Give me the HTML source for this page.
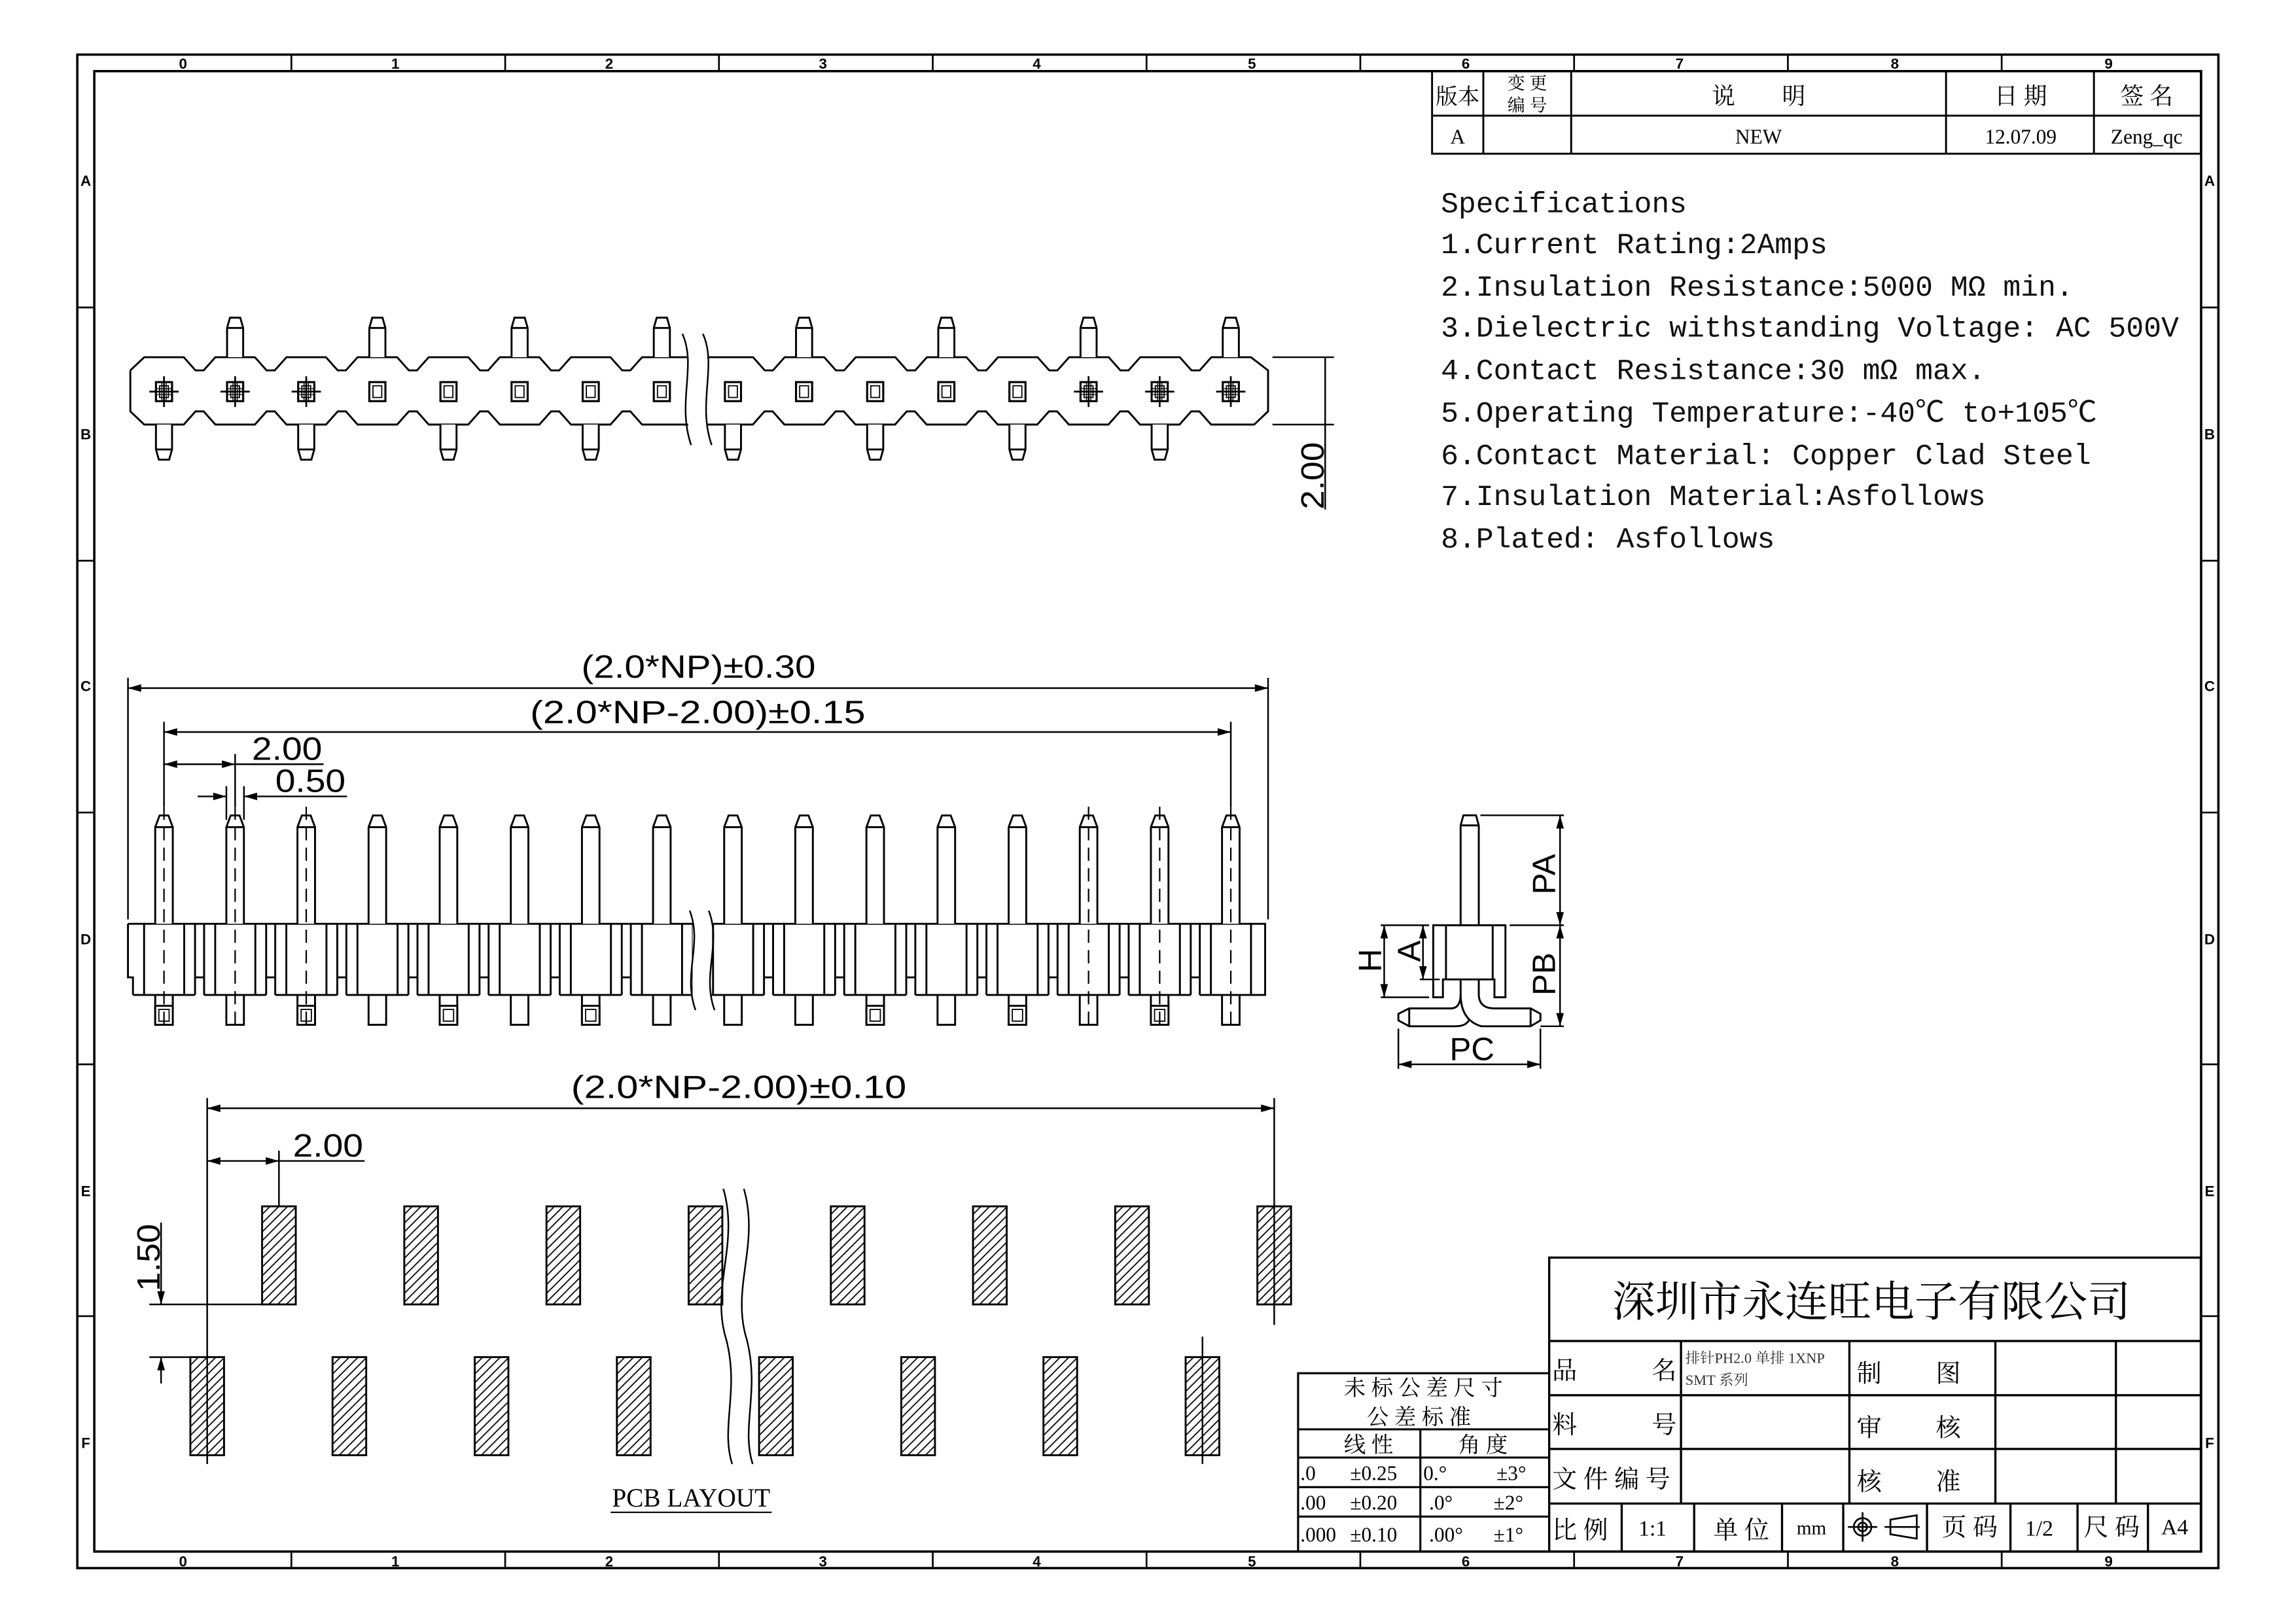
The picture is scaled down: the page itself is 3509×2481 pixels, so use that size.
<!DOCTYPE html>
<html><head><meta charset="utf-8"><style>
html,body{margin:0;padding:0;background:#fff}
svg{display:block}
.t{font-family:"Liberation Sans",sans-serif}
.s{font-family:"Liberation Serif","Noto Serif CJK SC",serif}
.m{font-family:"Liberation Mono","Noto Sans CJK SC",monospace}
.c{font-family:"Liberation Serif","Noto Serif CJK SC","Noto Sans CJK SC",serif}
</style></head><body>
<svg xmlns="http://www.w3.org/2000/svg" xmlns:xlink="http://www.w3.org/1999/xlink" width="3509" height="2481" viewBox="0 0 1568 1108.6" preserveAspectRatio="none">
<defs>
<marker id="ar" markerUnits="userSpaceOnUse" markerWidth="12" markerHeight="8" refX="0" refY="0" viewBox="-10 -4 11 8" orient="auto-start-reverse"><path d="M0,0 L-9,-2.6 L-9,2.6 z" fill="#000"/></marker>
<pattern id="h" patternUnits="userSpaceOnUse" width="6" height="6"><path d="M0,6 L6,0 M-1,1 L1,-1 M5,7 L7,5" stroke="#000" stroke-width="0.8"/></pattern>
<g id="tvup"><path d="M-5.5,244 V224 L-3.5,217 H3.5 L5.5,224 V244 M-5.5,224 H5.5" fill="#fff" stroke="#000" stroke-width="1.3"/></g>
<g id="tvdn"><path d="M-5.5,290 V307 L-3.5,314 H3.5 L5.5,307 V290 M-5.5,307 H5.5" fill="#fff" stroke="#000" stroke-width="1.3"/></g>
<g id="tvsq"><rect x="-5.5" y="261" width="11" height="13" fill="none" stroke="#000" stroke-width="1.4"/><rect x="-3" y="263.5" width="6" height="8" fill="none" stroke="#000" stroke-width="0.8"/></g>
<g id="tvx"><path d="M-10,267.5 H10 M0,257 V278" stroke="#000" stroke-width="1.2"/><path d="M-1.5,261 V274 M1.5,261 V274 M-5.5,265.5 H5.5 M-5.5,269.5 H5.5" stroke="#000" stroke-width="0.6"/></g>
<g id="fvc"><path d="M-6,631 V565 L-3,557 H3 L6,565 V631 M-6,565 H6" fill="#fff" stroke="#000" stroke-width="1.3"/><path d="M-13.6,631 V679.6 M13.8,631 V679.6 M-21.2,679.6 H21.2 M-6,679.6 V700 H6 V679.6" fill="none" stroke="#000" stroke-width="1.3"/></g>
<g id="fvg"><path d="M21.2,631 V679.6 M21.2,667.6 H27.4 M27.4,631 V679.6" fill="none" stroke="#000" stroke-width="1.3"/></g>
<g id="fvs"><rect x="-6" y="687" width="12" height="13" fill="#fff" stroke="#000" stroke-width="1.3"/><rect x="-3.5" y="689.5" width="7" height="8" fill="none" stroke="#000" stroke-width="0.8"/></g>
<g id="fvl"><path d="M0,551 V704" stroke="#000" stroke-width="1" stroke-dasharray="9,5"/></g>
<g id="pad"><rect x="-11.5" y="0" width="23" height="67" fill="url(#h)" stroke="#000" stroke-width="1.3"/></g>
</defs>
<rect width="1568" height="1108.6" fill="#fff"/>

<!-- borders -->
<rect x="52.8" y="37.3" width="1462.2" height="1033.8" fill="none" stroke="#000" stroke-width="1.6"/>
<rect x="64.4" y="48.6" width="1438.8" height="1011.2" fill="none" stroke="#000" stroke-width="1.6"/>
<g stroke="#000" stroke-width="1.2">
<path d="M199,37.3V48.6 M345,37.3V48.6 M491,37.3V48.6 M637,37.3V48.6 M783,37.3V48.6 M929,37.3V48.6 M1075,37.3V48.6 M1221,37.3V48.6 M1367,37.3V48.6"/>
<path d="M199,1059.8V1071 M345,1059.8V1071 M491,1059.8V1071 M637,1059.8V1071 M783,1059.8V1071 M929,1059.8V1071 M1075,1059.8V1071 M1221,1059.8V1071 M1367,1059.8V1071"/>
<path d="M52.8,210H64.4 M52.8,383H64.4 M52.8,555H64.4 M52.8,727H64.4 M52.8,899H64.4"/>
<path d="M1503,210H1515 M1503,383H1515 M1503,555H1515 M1503,727H1515 M1503,899H1515"/>
</g>
<g class="t" font-size="10" font-weight="bold" text-anchor="middle">
<text x="125" y="47">0</text><text x="270" y="47">1</text><text x="416" y="47">2</text><text x="562" y="47">3</text><text x="708" y="47">4</text><text x="855" y="47">5</text><text x="1001" y="47">6</text><text x="1147" y="47">7</text><text x="1294" y="47">8</text><text x="1440" y="47">9</text>
<text x="125" y="1070">0</text><text x="270" y="1070">1</text><text x="416" y="1070">2</text><text x="562" y="1070">3</text><text x="708" y="1070">4</text><text x="855" y="1070">5</text><text x="1001" y="1070">6</text><text x="1147" y="1070">7</text><text x="1294" y="1070">8</text><text x="1440" y="1070">9</text>
<text x="58.6" y="127">A</text><text x="58.6" y="300">B</text><text x="58.6" y="472">C</text><text x="58.6" y="645">D</text><text x="58.6" y="817">E</text><text x="58.6" y="989">F</text>
<text x="1509" y="127">A</text><text x="1509" y="300">B</text><text x="1509" y="472">C</text><text x="1509" y="645">D</text><text x="1509" y="817">E</text><text x="1509" y="989">F</text>
</g>

<!-- revision table -->
<g fill="none" stroke="#000" stroke-width="1.3">
<rect x="978" y="48.6" width="525" height="56.4"/>
<path d="M978,79H1503 M1013,48.6V105 M1073,48.6V105 M1329,48.6V105 M1430,48.6V105"/>
</g>
<g class="c" text-anchor="middle">
<text x="995.5" y="71" font-size="15">版本</text>
<text x="1043" y="61" font-size="12">变 更</text><text x="1043" y="76" font-size="12">编 号</text>
<text x="1201" y="71" font-size="16">说　　明</text>
<text x="1380" y="71" font-size="16">日 期</text>
<text x="1466" y="71" font-size="16">签 名</text>
<text x="995.5" y="98" font-size="14">A</text>
<text x="1201" y="98" font-size="14">NEW</text>
<text x="1380" y="98" font-size="14">12.07.09</text>
<text x="1466" y="98" font-size="14">Zeng_qc</text>
</g>

<!-- specs -->
<g class="m" font-size="20" fill="#111">
<text x="984" y="145">Specifications</text>
<text x="984" y="173">1.Current Rating:2Amps</text>
<text x="984" y="202">2.Insulation Resistance:5000 MΩ min.</text>
<text x="984" y="230">3.Dielectric withstanding Voltage: AC 500V</text>
<text x="984" y="259">4.Contact Resistance:30 mΩ max.</text>
<text x="984" y="288">5.Operating Temperature:-40℃ to+105℃</text>
<text x="984" y="317">6.Contact Material: Copper Clad Steel</text>
<text x="984" y="345">7.Insulation Material:Asfollows</text>
<text x="984" y="374">8.Plated: Asfollows</text>
</g>

<!-- TOP VIEW -->
<g fill="none" stroke="#000" stroke-width="1.3">
<path d="M470,244 H465.5 M89,253 L98.5,244 H125.5 l8,9 h5.57 l8,-9 h27 l8,9 h5.57 l8,-9 h27 l8,9 h5.57 l8,-9 h27 l8,9 h5.57 l8,-9 h27 l8,9 h5.57 l8,-9 h27 l8,9 h5.57 l8,-9 h27 l8,9 h5.57 l8,-9 h27 H470"/>
<path d="M470,290 H465.5 h-27 l-8,-9 h-5.57 l-8,9 h-27 l-8,-9 h-5.57 l-8,9 h-27 l-8,-9 h-5.57 l-8,9 h-27 l-8,-9 h-5.57 l-8,9 h-27 l-8,-9 h-5.57 l-8,9 h-27 l-8,-9 h-5.57 l-8,9 h-27 l-8,-9 h-5.57 l-8,9 h-27 L89,281 V253"/>
<path d="M483,244 H514.3 l8,9 h5.57 l8,-9 h27 l8,9 h5.57 l8,-9 h27 l8,9 h5.57 l8,-9 h27 l8,9 h5.57 l8,-9 h27 l8,9 h5.57 l8,-9 h27 l8,9 h5.57 l8,-9 h27 l8,9 h5.57 l8,-9 h27 L866,253 V281 L856.5,290 H854.1 h-27 l-8,-9 h-5.57 l-8,9 h-27 l-8,-9 h-5.57 l-8,9 h-27 l-8,-9 h-5.57 l-8,9 h-27 l-8,-9 h-5.57 l-8,9 h-27 l-8,-9 h-5.57 l-8,9 h-27 l-8,-9 h-5.57 l-8,9 h-27 l-8,-9 h-5.57 l-8,9 h-27 H483"/>
<path d="M466,228 C476,250 462,275 472,304 M480,228 C490,250 476,275 486,304" stroke-width="1.1"/>
</g>
<use xlink:href="#tvup" x="160.57"/><use xlink:href="#tvup" x="257.71"/><use xlink:href="#tvup" x="354.85"/><use xlink:href="#tvup" x="451.99"/>
<use xlink:href="#tvup" x="549.13"/><use xlink:href="#tvup" x="646.27"/><use xlink:href="#tvup" x="743.41"/><use xlink:href="#tvup" x="840.55"/>
<use xlink:href="#tvdn" x="112"/><use xlink:href="#tvdn" x="209.14"/><use xlink:href="#tvdn" x="306.28"/><use xlink:href="#tvdn" x="403.42"/>
<use xlink:href="#tvdn" x="500.56"/><use xlink:href="#tvdn" x="597.7"/><use xlink:href="#tvdn" x="694.84"/><use xlink:href="#tvdn" x="791.98"/>
<use xlink:href="#tvsq" x="112"/><use xlink:href="#tvsq" x="160.57"/><use xlink:href="#tvsq" x="209.14"/><use xlink:href="#tvsq" x="257.71"/>
<use xlink:href="#tvsq" x="306.28"/><use xlink:href="#tvsq" x="354.85"/><use xlink:href="#tvsq" x="403.42"/><use xlink:href="#tvsq" x="451.99"/>
<use xlink:href="#tvsq" x="500.56"/><use xlink:href="#tvsq" x="549.13"/><use xlink:href="#tvsq" x="597.7"/><use xlink:href="#tvsq" x="646.27"/>
<use xlink:href="#tvsq" x="694.84"/><use xlink:href="#tvsq" x="743.41"/><use xlink:href="#tvsq" x="791.98"/><use xlink:href="#tvsq" x="840.55"/>
<use xlink:href="#tvx" x="112"/><use xlink:href="#tvx" x="160.57"/><use xlink:href="#tvx" x="209.14"/>
<use xlink:href="#tvx" x="743.41"/><use xlink:href="#tvx" x="791.98"/><use xlink:href="#tvx" x="840.55"/>
<g stroke="#000" stroke-width="1.1" fill="none">
<path d="M869,244 H911 M869,290 H911"/>
<path d="M905,244 V348"/>
</g>
<text class="t" font-size="22" transform="translate(904,348) rotate(-90)" textLength="46" lengthAdjust="spacingAndGlyphs">2.00</text>

<!-- FRONT VIEW -->
<g fill="none" stroke="#000" stroke-width="1.3">
<path d="M87.4,631 H864 V679.6 H861.75 M87.4,631 V667.6 H90.8 V679.6"/>
</g>
<use xlink:href="#fvc" x="112"/><use xlink:href="#fvc" x="160.57"/><use xlink:href="#fvc" x="209.14"/><use xlink:href="#fvc" x="257.71"/>
<use xlink:href="#fvc" x="306.28"/><use xlink:href="#fvc" x="354.85"/><use xlink:href="#fvc" x="403.42"/><use xlink:href="#fvc" x="451.99"/>
<use xlink:href="#fvc" x="500.56"/><use xlink:href="#fvc" x="549.13"/><use xlink:href="#fvc" x="597.7"/><use xlink:href="#fvc" x="646.27"/>
<use xlink:href="#fvc" x="694.84"/><use xlink:href="#fvc" x="743.41"/><use xlink:href="#fvc" x="791.98"/><use xlink:href="#fvc" x="840.55"/>
<use xlink:href="#fvg" x="112"/><use xlink:href="#fvg" x="160.57"/><use xlink:href="#fvg" x="209.14"/><use xlink:href="#fvg" x="257.71"/>
<use xlink:href="#fvg" x="306.28"/><use xlink:href="#fvg" x="354.85"/><use xlink:href="#fvg" x="403.42"/><use xlink:href="#fvg" x="451.99"/>
<use xlink:href="#fvg" x="500.56"/><use xlink:href="#fvg" x="549.13"/><use xlink:href="#fvg" x="597.7"/><use xlink:href="#fvg" x="646.27"/>
<use xlink:href="#fvg" x="694.84"/><use xlink:href="#fvg" x="743.41"/><use xlink:href="#fvg" x="791.98"/>
<use xlink:href="#fvs" x="112"/><use xlink:href="#fvs" x="209.14"/><use xlink:href="#fvs" x="306.28"/><use xlink:href="#fvs" x="403.42"/>
<use xlink:href="#fvs" x="597.7"/><use xlink:href="#fvs" x="694.84"/><use xlink:href="#fvs" x="791.98"/>
<use xlink:href="#fvl" x="112"/><use xlink:href="#fvl" x="160.57"/><use xlink:href="#fvl" x="209.14"/>
<use xlink:href="#fvl" x="743.41"/><use xlink:href="#fvl" x="791.98"/><use xlink:href="#fvl" x="840.55"/>
<rect x="473" y="626" width="13" height="60" fill="#fff"/>
<path d="M471,622 C480,645 466,665 475,690 M484,622 C493,645 479,665 488,690" fill="none" stroke="#000" stroke-width="1.1"/>
<!-- front dims -->
<g stroke="#000" stroke-width="1.1" fill="none">
<path d="M87.4,463 V628 M866,463 V628 M112,493 V551 M840.55,493 V551 M160.57,515 V551 M154.6,537 V560 M166.6,537 V560"/>
<path d="M87.4,470 H866" marker-start="url(#ar)" marker-end="url(#ar)"/>
<path d="M112,500 H840.55" marker-start="url(#ar)" marker-end="url(#ar)"/>
<path d="M112,522 H160.57" marker-start="url(#ar)" marker-end="url(#ar)"/>
<path d="M160.57,522 H221"/>
<path d="M135,544 H154.6" marker-end="url(#ar)"/>
<path d="M237,544 H166.6" marker-end="url(#ar)"/>
</g>
<g class="t" font-size="22">
<text x="397" y="463" textLength="160" lengthAdjust="spacingAndGlyphs">(2.0*NP)±0.30</text>
<text x="362" y="494" textLength="229" lengthAdjust="spacingAndGlyphs">(2.0*NP-2.00)±0.15</text>
<text x="172" y="519" textLength="48" lengthAdjust="spacingAndGlyphs">2.00</text>
<text x="188" y="541" textLength="48" lengthAdjust="spacingAndGlyphs">0.50</text>
</g>

<!-- SIDE VIEW -->
<g fill="none" stroke="#000" stroke-width="1.3">
<path d="M997.5,632 V563.8 L999.4,556.9 H1008 L1009.9,563.8 V632 M997.5,563.8 H1009.9"/>
<path d="M978.8,632 H1028.1 V681.2 H1020.6 V669 H985.4 V681.2 H978.8 Z M987.5,632 V669 M1019.4,632 V669"/>
<path d="M997.5,669 V679 Q997.5,697 1011.7,701 H1045.3 L1052,697 V692.5 L1045.3,688.8 H1020.6 Q1009.9,688.8 1009.9,679 V669"/>
<path d="M997.5,679 Q997.5,688.8 990.8,688.8 H962.4 L955,692.5 V697 L962.4,701 H993.8 Q1001,701 1003,697"/>
<path d="M962.4,688.8 V701 M1045.3,688.8 V701"/>
</g>
<g stroke="#000" stroke-width="1.1" fill="none">
<path d="M1011,556.9 H1068 M1031,632 H1068 M1052,701 H1068 M943,632 H976 M943,681.2 H976 M969.6,669 H983.3 M955,702.6 V730 M1052,702.6 V730"/>
<path d="M1065.4,556.9 V632" marker-start="url(#ar)" marker-end="url(#ar)"/>
<path d="M1065.4,632 V701" marker-start="url(#ar)" marker-end="url(#ar)"/>
<path d="M945.3,632 V681.2" marker-start="url(#ar)" marker-end="url(#ar)"/>
<path d="M971.8,632 V669" marker-start="url(#ar)" marker-end="url(#ar)"/>
<path d="M955,727 H1052" marker-start="url(#ar)" marker-end="url(#ar)"/>
</g>
<g class="t" font-size="22">
<text transform="translate(1062,611) rotate(-90)">PA</text>
<text transform="translate(1062,680) rotate(-90)">PB</text>
<text transform="translate(943,664) rotate(-90)">H</text>
<text transform="translate(970,657) rotate(-90)">A</text>
<text x="990" y="724">PC</text>
</g>

<!-- PCB LAYOUT -->
<use xlink:href="#pad" transform="translate(190.5,824)"/><use xlink:href="#pad" transform="translate(287.6,824)"/>
<use xlink:href="#pad" transform="translate(384.7,824)"/><use xlink:href="#pad" transform="translate(481.8,824)"/>
<use xlink:href="#pad" transform="translate(578.9,824)"/><use xlink:href="#pad" transform="translate(676,824)"/>
<use xlink:href="#pad" transform="translate(773.1,824)"/><use xlink:href="#pad" transform="translate(870.2,824)"/>
<use xlink:href="#pad" transform="translate(141.5,927)"/><use xlink:href="#pad" transform="translate(238.6,927)"/>
<use xlink:href="#pad" transform="translate(335.7,927)"/><use xlink:href="#pad" transform="translate(432.8,927)"/>
<use xlink:href="#pad" transform="translate(529.9,927)"/><use xlink:href="#pad" transform="translate(627,927)"/>
<use xlink:href="#pad" transform="translate(724.1,927)"/><use xlink:href="#pad" transform="translate(821.2,927)"/>
<rect x="497" y="810" width="12" height="195" fill="#fff"/>
<path d="M494,812 C505,850 485,880 496,915 C505,950 492,975 500,1000 M508,812 C519,850 499,880 510,915 C519,950 506,975 514,1000" fill="none" stroke="#000" stroke-width="1.1"/>
<g stroke="#000" stroke-width="1.1" fill="none">
<path d="M141.5,750 V1000 M870.2,750 V905 M190.5,786 V824 M821.2,913 V1000 M102,891 H179 M102,927 H130"/>
<path d="M141.5,757 H870.2" marker-start="url(#ar)" marker-end="url(#ar)"/>
<path d="M141.5,793 H190.5" marker-start="url(#ar)" marker-end="url(#ar)"/>
<path d="M190.5,793 H249"/>
<path d="M110,835 V891" marker-end="url(#ar)"/>
<path d="M110,945 V927" marker-end="url(#ar)"/>
</g>
<g class="t" font-size="22">
<text x="390" y="750" textLength="229" lengthAdjust="spacingAndGlyphs">(2.0*NP-2.00)±0.10</text>
<text x="200" y="790" textLength="48" lengthAdjust="spacingAndGlyphs">2.00</text>
<text transform="translate(109,882) rotate(-90)" textLength="46" lengthAdjust="spacingAndGlyphs">1.50</text>
</g>
<text class="s" x="418" y="1029" font-size="18" textLength="108" lengthAdjust="spacingAndGlyphs">PCB LAYOUT</text>
<path d="M417,1033 H527" stroke="#000" stroke-width="1"/>

<!-- tolerance table -->
<g fill="none" stroke="#000" stroke-width="1.4">
<path d="M886.5,1059.8 V938 H1058 M886.5,976.3 H1058 M886.5,995.6 H1058 M886.5,1015.8 H1058 M886.5,1035.9 H1058 M970,976.3 V1059.8"/>
</g>
<g class="c" font-size="15" text-anchor="middle">
<text x="972" y="953">未 标 公 差 尺 寸</text>
<text x="969" y="973">公 差 标 准</text>
<text x="934.6" y="992">线 性</text>
<text x="1012.8" y="992">角 度</text>
</g>
<g class="s" font-size="14">
<text x="888" y="1011">.0</text><text x="922" y="1011">±0.25</text><text x="972" y="1011">0.°</text><text x="1022" y="1011">±3°</text>
<text x="888" y="1031">.00</text><text x="922" y="1031">±0.20</text><text x="976" y="1031">.0°</text><text x="1020" y="1031">±2°</text>
<text x="888" y="1053">.000</text><text x="922" y="1053">±0.10</text><text x="976" y="1053">.00°</text><text x="1020" y="1053">±1°</text>
</g>

<!-- title block -->
<g fill="none" stroke="#000" stroke-width="1.5">
<rect x="1058" y="859" width="445" height="200.8"/>
<path d="M1058,916 H1503 M1058,953 H1503 M1058,989.7 H1503 M1058,1027 H1503"/>
<path d="M1148,916 V1027 M1263,916 V1027 M1362.7,916 V1027 M1445,916 V1027"/>
<path d="M1107.5,1027 V1059.8 M1157,1027 V1059.8 M1217,1027 V1059.8 M1258.8,1027 V1059.8 M1316,1027 V1059.8 M1373,1027 V1059.8 M1418.8,1027 V1059.8 M1466.9,1027 V1059.8"/>
</g>
<text class="c" x="1278" y="899" font-size="29" text-anchor="middle" textLength="354" lengthAdjust="spacingAndGlyphs">深圳市永连旺电子有限公司</text>
<g class="c" font-size="17">
<text x="1060" y="942">品</text><text x="1128" y="942">名</text>
<text x="1060" y="979">料</text><text x="1128" y="979">号</text>
<text x="1060" y="1016">文 件 编 号</text>
<text x="1268" y="944">制</text><text x="1322" y="944">图</text>
<text x="1268" y="981">审</text><text x="1322" y="981">核</text>
<text x="1268" y="1018">核</text><text x="1322" y="1018">准</text>
<text x="1060" y="1051">比 例</text>
<text x="1119" y="1049" class="s" font-size="15">1:1</text>
<text x="1170" y="1051">单 位</text>
<text x="1227" y="1048" class="s" font-size="13">mm</text>
<text x="1326" y="1049">页 码</text>
<text x="1383" y="1049" class="s" font-size="15">1/2</text>
<text x="1423" y="1049">尺 码</text>
<text x="1476" y="1048" class="s" font-size="15">A4</text>
</g>
<text class="c" x="1151" y="931" font-size="10" fill="#333">排针PH2.0 单排 1XNP</text>
<text class="c" x="1151" y="946" font-size="10" fill="#333">SMT 系列</text>
<g fill="none" stroke="#000" stroke-width="1.2">
<circle cx="1272" cy="1043" r="6"/><circle cx="1272" cy="1043" r="3"/>
<path d="M1262,1043 H1282 M1272,1033 V1053 M1287,1043 H1311 M1291,1038 L1309,1035 V1051 L1291,1048 Z"/>
</g>
</svg>
</body></html>
